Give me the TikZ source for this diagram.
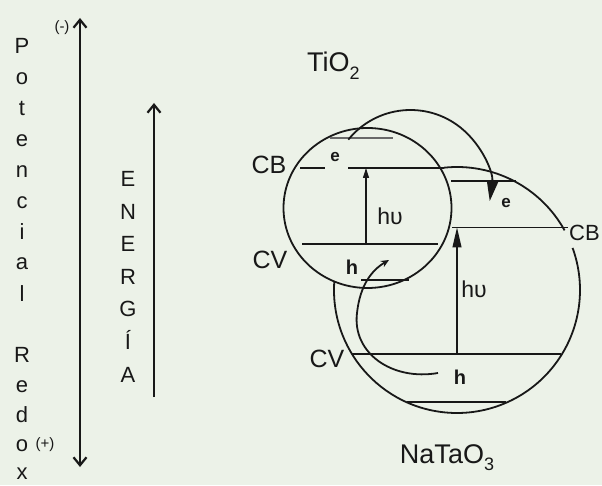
\documentclass[tikz,border=0pt]{standalone}
\usepackage{fontspec}
\setmainfont{Liberation Sans}
\usetikzlibrary{arrows.meta,shapes.geometric,calc}
\definecolor{bg}{RGB}{236,242,232}
\definecolor{ink}{RGB}{24,24,24}
\begin{document}
\begin{tikzpicture}[x=1pt,y=1pt,
  vlet/.style={text=ink,inner sep=0pt,anchor=base,font=\fontsize{22}{22}\selectfont},
  elet/.style={text=ink,inner sep=0pt,anchor=base,font=\fontsize{22}{22}\selectfont},
  lbl/.style={text=ink,inner sep=0pt,font=\fontsize{25}{25}\selectfont},
  hnu/.style={text=ink,inner sep=0pt,font=\fontsize{23}{23}\selectfont},
  big/.style={text=ink,inner sep=0pt,anchor=base,font=\fontsize{27}{27}\selectfont},
  sml/.style={text=ink,inner sep=0pt,font=\fontsize{15}{15}\selectfont},
  bld/.style={text=ink,inner sep=0pt,font=\bfseries\fontsize{20}{20}\selectfont},
  bldsm/.style={text=ink,inner sep=0pt,font=\bfseries\fontsize{17}{17}\selectfont},
  axis/.style={draw=ink,line width=2.2pt},
  orb/.style={draw=ink,line width=1.8pt},
  band/.style={draw=ink,line width=1.6pt},
  photon/.style={draw=ink,line width=1.1pt},
]
\fill[bg] (0,0) rectangle (602,485);
\useasboundingbox (0,0) rectangle (602,485);

% ---- Potencial Redox axis
\coordinate (pt) at (80,467);
\coordinate (pb) at (80,18);
\draw[axis,{Straight Barb[length=8pt,width=13pt]}-{Straight Barb[length=8pt,width=13pt]}] (pb) -- (pt);
\node[sml] (minus) at (62,457) {(-)};
\node[sml] (plus) at (45,40) {(+)};
\foreach \ch/\yy [count=\i] in {P/54,o/85,t/116,e/147,n/178,c/209,i/240,a/270,l/301,R/362,e/392,d/422,o/451,x/479}
  \node[vlet] (pot\i) at (22,485-\yy) {\ch};

% ---- Energia axis
\coordinate (eb) at (154,88);
\coordinate (et) at (154,382);
\draw[axis,-{Straight Barb[length=8pt,width=13pt]}] (eb) -- (et);
\foreach \ch/\yy [count=\i] in {E/187,N/219.5,E/252,R/284.5,G/317,Í/349.5,A/382}
  \node[elet] (en\i) at (128,485-\yy) {\ch};

% ---- titles
\node[big,anchor=base west] (tio) at (307,413) {TiO\raisebox{-0.28em}{\fontsize{18}{18}\selectfont 2}};
\node[big] (nta) at (447,22) {NaTaO\raisebox{-0.28em}{\fontsize{18}{18}\selectfont 3}};

% ---- TiO2 circle
\node[orb,ellipse,minimum width=168pt,minimum height=160pt,inner sep=0pt] (c1) at (367.5,277) {};

% ---- NaTaO3 circle (partly hidden behind TiO2)
\coordinate (c2) at (457,195);
\draw[orb] (c2)++(29:123) arc[start angle=29,end angle=96,radius=123];
\draw[orb] (c2)++(176:123) arc[start angle=176,end angle=380,radius=123];

% ---- TiO2 levels
\coordinate (ta1) at (330,347); \coordinate (ta2) at (393,347);
\draw[band,draw=ink!65] (ta1) -- (ta2);
\coordinate (tb1) at (300,317); \coordinate (tb2) at (325,317);
\coordinate (tb3) at (348,317); \coordinate (tb4) at (444,317);
\draw[band] (tb1) -- (tb2);
\draw[band] (tb3) -- (tb4);
\coordinate (tv1) at (302,241); \coordinate (tv2) at (438,241);
\draw[band] (tv1) -- (tv2);
\coordinate (th1) at (361,205); \coordinate (th2) at (409,205);
\draw[band] (th1) -- (th2);
\coordinate (hvl1) at (366,241); \coordinate (hvl2) at (366,317);
\draw[photon,-{Triangle[length=10pt,width=6pt]}] (hvl1) -- (hvl2);

% ---- NaTaO3 levels
\coordinate (na1) at (451,304); \coordinate (na2) at (516,304);
\draw[band] (na1) -- (na2);
\coordinate (nb1) at (452,257.5); \coordinate (nb2) at (568,257.5);
\draw[band] (nb1) -- (nb2);
\coordinate (nv1) at (352,131); \coordinate (nv2) at (561,131);
\draw[band] (nv1) -- (nv2);
\coordinate (nl1) at (407,83); \coordinate (nl2) at (506,83);
\draw[band] (nl1) -- (nl2);
\coordinate (hvr1) at (457,131); \coordinate (hvr2) at (457,257.5);
\draw[photon,-{Triangle[length=20pt,width=9pt]}] (hvr1) -- (hvr2);

% ---- electron transfer arc
\coordinate (ea) at ($(410.5,295)+(141:80)$);
\draw[orb,-{Triangle[length=20pt,width=11pt]}] (ea) arc[start angle=141,end angle=-8,radius=80];

% ---- hole transfer curve
\coordinate (hb1) at (438,112);
\coordinate (hbm) at (357,172);
\coordinate (hb2) at (389,225);
\draw[orb,-{Stealth[length=8pt,width=7pt]}] (hb1) .. controls (392,104) and (352,132) .. (hbm) .. controls (360,200) and (372,215) .. (hb2);

% ---- labels
\node[lbl] (cbl) at (269,320) {CB};
\node[lbl] (cvl) at (270,225) {CV};
\node[lbl] (cvr) at (327,126) {CV};
\node[lbl,anchor=west,font=\fontsize{22}{22}\selectfont] (cbr) at (569,252) {CB};
\node[hnu] (hvl) at (390,269) {hυ};
\node[hnu] (hvr) at (474,196) {hυ};
\node[bldsm] (el) at (335,328) {e};
\node[bldsm] (er) at (506,282) {e};
\node[bld] (hl) at (352,218) {h};
\node[bld] (hr) at (460,108) {h};
\end{tikzpicture}
\end{document}
